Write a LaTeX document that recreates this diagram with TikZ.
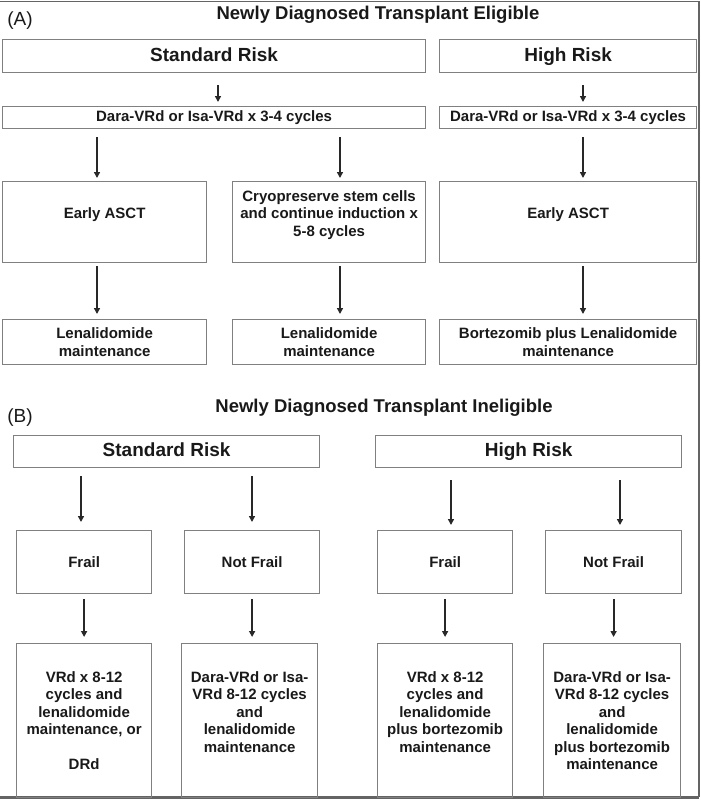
\documentclass[tikz,border=0pt]{standalone}
\usepackage{fontspec}
\setmainfont{Liberation Sans}
\usetikzlibrary{arrows.meta}

\definecolor{boxgray}{RGB}{128,128,128}
\definecolor{arrowgray}{RGB}{40,40,40}
\definecolor{framegray}{RGB}{100,100,100}
\definecolor{inkgray}{RGB}{25,25,25}

\begin{document}
\begin{tikzpicture}[
  x=1pt, y=-1pt,
  box/.style={draw=boxgray, line width=1.2pt, align=center, inner sep=0pt, anchor=north west, text=inkgray, font=\fontsize{15}{17.5}\selectfont\bfseries},
  wh/.style 2 args={minimum width=#1pt, minimum height=#2pt},
  riskbox/.style={box, text height=14pt, text depth=4pt, font=\fontsize{19}{22}\selectfont\bfseries},
  title/.style={text=inkgray, font=\fontsize{18.5}{22}\selectfont\bfseries},
  panel/.style={text=inkgray, font=\fontsize{19}{22}\selectfont},
  arr/.style={-{Triangle[length=6pt, width=6pt]}, line width=1.8pt, draw=arrowgray},
  frame/.style={draw=framegray, line width=1.8pt}
]
\useasboundingbox (0,0) rectangle (701,800);

% outer frame (open on the left)
\draw[frame] (0,1.5) -| (699,797);
\draw[frame, line width=3pt] (0,797.5) -- (699,797.5);

% (A) transplant eligible
\node[panel] (labA) at (20,21) {(A)};
\node[title] (titleA) at (378,15) {Newly Diagnosed Transplant Eligible};

\node[riskbox, wh={423}{33}] (srA) at (2,39) {Standard Risk};
\node[riskbox, wh={257}{33}] (hrA) at (439,39) {High Risk};

\node[box, wh={423}{22}] (indA1) at (2,106) {Dara-VRd or Isa-VRd x 3-4 cycles};
\node[box, wh={257}{22}] (indA2) at (439,106) {Dara-VRd or Isa-VRd x 3-4 cycles};

\node[box, wh={204}{81}] (asctA1) at (2,181) {Early ASCT\\\mbox{}};
\node[box, wh={193}{81}] (cryoA) at (232,181) {Cryopreserve stem cells\\and continue induction x\\5-8 cycles\\\mbox{}};
\node[box, wh={257}{81}] (asctA2) at (439,181) {Early ASCT\\\mbox{}};

\node[box, wh={204}{45}] (mainA1) at (2,319) {Lenalidomide\\maintenance};
\node[box, wh={193}{45}] (mainA2) at (232,319) {Lenalidomide\\maintenance};
\node[box, wh={257}{45}] (mainA3) at (439,319) {Bortezomib plus Lenalidomide\\maintenance};

\coordinate (colA0) at (218,0);
\coordinate (colA1) at (97,0);
\coordinate (colA2) at (340,0);
\coordinate (colA3) at (583,0);

\draw[arr, shorten <=12pt, shorten >=4pt] (srA.south -| colA0) -- (indA1.north -| colA0);
\draw[arr, shorten <=12pt, shorten >=4pt] (hrA.south -| colA3) -- (indA2.north -| colA3);
\draw[arr, shorten <=8pt, shorten >=3pt] (indA1.south -| colA1) -- (asctA1.north -| colA1);
\draw[arr, shorten <=8pt, shorten >=3pt] (indA1.south -| colA2) -- (cryoA.north -| colA2);
\draw[arr, shorten <=8pt, shorten >=3pt] (indA2.south -| colA3) -- (asctA2.north -| colA3);
\draw[arr, shorten <=3pt, shorten >=5pt] (asctA1.south -| colA1) -- (mainA1.north -| colA1);
\draw[arr, shorten <=3pt, shorten >=5pt] (cryoA.south -| colA2) -- (mainA2.north -| colA2);
\draw[arr, shorten <=3pt, shorten >=5pt] (asctA2.south -| colA3) -- (mainA3.north -| colA3);

% (B) transplant ineligible
\node[panel] (labB) at (20,418) {(B)};
\node[title] (titleB) at (384,408) {Newly Diagnosed Transplant Ineligible};

\node[riskbox, wh={306}{32}] (srB) at (13,435) {Standard Risk};
\node[riskbox, wh={306}{32}] (hrB) at (375,435) {High Risk};

\node[box, wh={135}{63}] (frailB1) at (16,530) {Frail};
\node[box, wh={135}{63}] (fitB1) at (184,530) {Not Frail};
\node[box, wh={135}{63}] (frailB2) at (377,530) {Frail};
\node[box, wh={136}{63}] (fitB2) at (545,530) {Not Frail};

\node[box, wh={135}{154}] (regB1) at (16,643) {VRd x 8-12\\cycles and\\lenalidomide\\maintenance, or\\[17.5pt]DRd};
\node[box, wh={136}{154}] (regB2) at (181,643) {Dara-VRd or Isa-\\VRd 8-12 cycles\\and\\lenalidomide\\maintenance\\\mbox{}};
\node[box, wh={135}{154}] (regB3) at (377,643) {VRd x 8-12\\cycles and\\lenalidomide\\plus bortezomib\\maintenance\\\mbox{}};
\node[box, wh={137}{154}] (regB4) at (543,643) {Dara-VRd or Isa-\\VRd 8-12 cycles\\and\\lenalidomide\\plus bortezomib\\maintenance};

\coordinate (colB1) at (81,0);
\coordinate (colB2) at (252,0);
\coordinate (colB3) at (451,0);
\coordinate (colB4) at (620,0);

\draw[arr, shorten <=8pt, shorten >=8pt] (srB.south -| colB1) -- (frailB1.north -| colB1);
\draw[arr, shorten <=8pt, shorten >=8pt] (srB.south -| colB2) -- (fitB1.north -| colB2);
\draw[arr, shorten <=12pt, shorten >=5pt] (hrB.south -| colB3) -- (frailB2.north -| colB3);
\draw[arr, shorten <=12pt, shorten >=5pt] (hrB.south -| colB4) -- (fitB2.north -| colB4);
\draw[arr, shorten <=5pt, shorten >=6pt] (frailB1.south) -- (regB1.north -| frailB1.south);
\draw[arr, shorten <=5pt, shorten >=6pt] (fitB1.south) -- (regB2.north -| fitB1.south);
\draw[arr, shorten <=5pt, shorten >=6pt] (frailB2.south) -- (regB3.north -| frailB2.south);
\draw[arr, shorten <=5pt, shorten >=6pt] (fitB2.south) -- (regB4.north -| fitB2.south);
\end{tikzpicture}
\end{document}
